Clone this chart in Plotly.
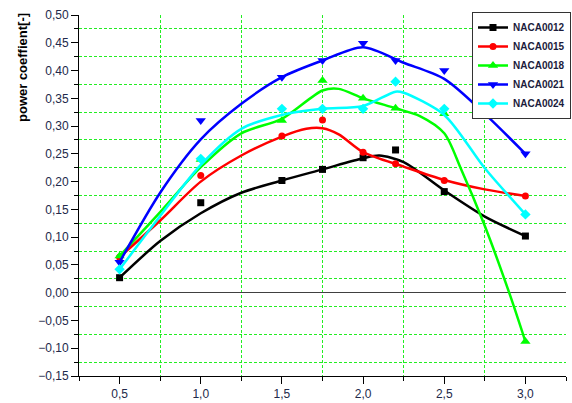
import plotly.graph_objects as go

# ---- measured data points (markers) ----
x_pts = [0.5, 1.0, 1.5, 1.75, 2.0, 2.2, 2.5, 3.0]
naca0012 = [0.027, 0.162, 0.202, 0.222, 0.243, 0.257, 0.182, 0.102]
naca0015 = [0.064, 0.211, 0.282, 0.311, 0.253, 0.232, 0.202, 0.174]
naca0018 = [0.066, 0.240, 0.310, 0.382, 0.350, 0.332, 0.322, -0.088]
naca0021 = [0.055, 0.310, 0.388, 0.418, 0.449, 0.418, 0.400, 0.250]
naca0024 = [0.042, 0.241, 0.331, 0.331, 0.331, 0.380, 0.331, 0.141]

# ---- smoothed fit curves ----
c0012_x = [0.5, 0.75, 1.0, 1.25, 1.5, 1.75, 2.0, 2.1, 2.25, 2.5, 2.75, 3.0]
c0012_y = [0.027, 0.093, 0.143, 0.180, 0.202, 0.222, 0.242, 0.247, 0.235, 0.184, 0.137, 0.102]

c0015_x = [0.5, 0.75, 1.0, 1.25, 1.5, 1.65, 1.75, 1.85, 2.0, 2.25, 2.5, 2.75, 3.0]
c0015_y = [0.064, 0.130, 0.200, 0.247, 0.281, 0.295, 0.296, 0.285, 0.253, 0.227, 0.203, 0.186, 0.174]

c0018_x = [0.5, 0.75, 1.0, 1.25, 1.5, 1.75, 1.85, 2.0, 2.2, 2.35, 2.5, 2.6, 2.75, 2.9, 3.0]
c0018_y = [0.066, 0.145, 0.226, 0.287, 0.313, 0.364, 0.367, 0.350, 0.332, 0.318, 0.287, 0.225, 0.120, 0.000, -0.088]

c0021_x = [0.5, 0.75, 1.0, 1.25, 1.5, 1.75, 2.0, 2.25, 2.5, 2.75, 3.0]
c0021_y = [0.055, 0.180, 0.276, 0.340, 0.388, 0.418, 0.442, 0.414, 0.385, 0.322, 0.250]

c0024_x = [0.5, 0.75, 1.0, 1.25, 1.5, 1.75, 2.0, 2.2, 2.25, 2.5, 2.75, 3.0]
c0024_y = [0.042, 0.138, 0.230, 0.295, 0.320, 0.331, 0.336, 0.362, 0.360, 0.320, 0.224, 0.141]

names = ["NACA0012", "NACA0015", "NACA0018", "NACA0021", "NACA0024"]
colors = ["#000000", "#ff0000", "#00ff00", "#0000ff", "#00ffff"]
symbols = ["square", "circle", "triangle-up", "triangle-down", "diamond"]
msizes = [7, 7, 9, 9, 8]
points = [naca0012, naca0015, naca0018, naca0021, naca0024]
curves = [(c0012_x, c0012_y), (c0015_x, c0015_y), (c0018_x, c0018_y),
          (c0021_x, c0021_y), (c0024_x, c0024_y)]

fig = go.Figure()
for name, col, sym, ms, pts, (cx, cy) in zip(names, colors, symbols, msizes, points, curves):
    fig.add_trace(go.Scatter(x=cx, y=cy, mode="lines", line=dict(color=col, width=2.5, shape="spline", smoothing=0.8),
                             showlegend=False, hoverinfo="skip"))
    fig.add_trace(go.Scatter(x=x_pts, y=pts, mode="markers",
                             marker=dict(symbol=sym, color=col, size=ms), showlegend=False))
    fig.add_trace(go.Scatter(x=[None], y=[None], mode="lines+markers", name=name,
                             line=dict(color=col, width=2.5),
                             marker=dict(symbol=sym, color=col, size=ms)))

tickfont = dict(family="Liberation Sans, Arial, sans-serif", size=12, color="#22294a")
grid = dict(showgrid=True, gridcolor="#22ee22", griddash="3px,2px", gridwidth=1)

fig.update_layout(
    width=572, height=403,
    margin=dict(l=79, r=6, t=15, b=27, autoexpand=False),
    paper_bgcolor="white", plot_bgcolor="white",
    separators=",.",
    showlegend=True,
    legend=dict(xref="container", yref="container", x=472/572, y=1-12/403,
                xanchor="left", yanchor="top",
                bgcolor="white", bordercolor="#333333", borderwidth=1,
                font=dict(family="Liberation Sans, Arial, sans-serif", size=10, color="#1c1c3c", weight="bold"),
                tracegroupgap=0, itemwidth=30),
    xaxis=dict(range=[0.25, 3.25], tick0=0.5, dtick=0.5, tickformat=".1f",
               showline=True, linecolor="black", linewidth=1,
               ticks="outside", ticklen=7, tickcolor="black",
               showgrid=False, zeroline=False, tickfont=tickfont,
               minor=dict(tick0=0.75, dtick=0.5, ticks="outside", ticklen=4, tickcolor="black", **grid)),
    yaxis=dict(range=[-0.15, 0.50], tick0=0, dtick=0.05, tickformat=".2f",
               showline=True, linecolor="black", linewidth=1,
               ticks="outside", ticklen=7, tickcolor="black",
               showgrid=False, zeroline=True, zerolinecolor="#404040", zerolinewidth=1,
               tickfont=tickfont,
               minor=dict(tick0=0.025, dtick=0.05, ticks="outside", ticklen=4, tickcolor="black", **grid)),
    annotations=[dict(text="<b>power coeffient[-]</b>", xref="paper", yref="paper",
                      x=(22-79)/487, y=(376-68)/361, xanchor="center", yanchor="middle",
                      textangle=-90, showarrow=False,
                      font=dict(family="Liberation Sans, Arial, sans-serif", size=13, color="black"))],
)

fig.write_html("out.html")
